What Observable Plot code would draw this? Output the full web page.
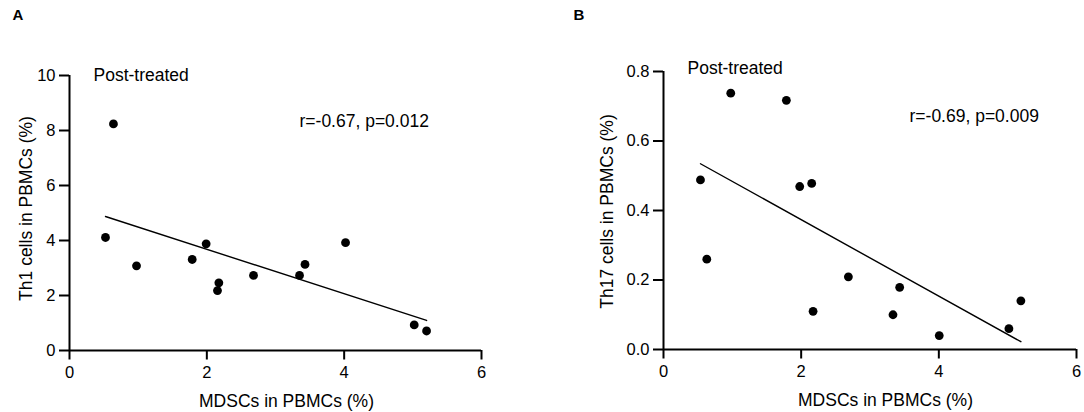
<!DOCTYPE html>
<html><head><meta charset="utf-8">
<script src="https://cdn.jsdelivr.net/npm/d3@7"></script>
<script src="https://cdn.jsdelivr.net/npm/@observablehq/plot@0.6"></script>
<style>
html,body{margin:0;padding:0;background:#fff;}
#wrap{display:flex;width:1084px;height:412px;overflow:hidden;}
#wrap svg{flex:none;}
</style></head><body><div id="wrap"></div>
<script>
// MDSCs in PBMCs (%) per patient
const mdscsA = [0.524, 0.64, 0.976, 1.787, 1.99, 2.155, 2.175, 2.68, 3.35, 3.43, 4.02, 5.02, 5.20];
const mdscsB = [0.537, 0.629, 0.977, 1.785, 1.979, 2.153, 2.173, 2.686, 3.334, 3.431, 4.006, 5.018, 5.192];
// Th1 cells in PBMCs (%)
const th1 = [4.11, 8.24, 3.08, 3.31, 3.88, 2.18, 2.46, 2.73, 2.73, 3.13, 3.92, 0.93, 0.71];
// Th17 cells in PBMCs (%)
const th17 = [0.488, 0.26, 0.7375, 0.717, 0.469, 0.478, 0.110, 0.209, 0.100, 0.179, 0.040, 0.060, 0.140];

const xTicks = [0, 2, 4, 6];
const th1Ticks = [0, 2, 4, 6, 8, 10];
const th17Ticks = [0, 0.2, 0.4, 0.6, 0.8];
const panelLetters = ["A", "B"];
const groupLabel = "Post-treated";
const stats = ["r=-0.67, p=0.012", "r=-0.69, p=0.009"];
const xLabel = "MDSCs in PBMCs (%)";
const yLabels = ["Th1 cells in PBMCs (%)", "Th17 cells in PBMCs (%)"];

const FONT = "'Liberation Sans', Arial, Helvetica, sans-serif";

function panel(o) {
  const data = o.xs.map((x, i) => ({x, y: o.ys[i]}));
  const anchor = {frameAnchor: "top-left", lineAnchor: "bottom", fill: "black"};
  return Plot.plot({
    width: 542, height: 412,
    marginLeft: o.ml, marginRight: o.mr, marginTop: o.mt, marginBottom: o.mb,
    style: {fontFamily: FONT, fontSize: "16.5px", color: "black", background: "white", overflow: "visible"},
    x: {domain: [0, 6], ticks: xTicks, tickFormat: d3.format("d"), label: null},
    y: {domain: o.yDomain, ticks: o.yTicks, tickFormat: o.yFormat, label: null},
    marks: [
      Plot.axisX({ticks: xTicks, tickFormat: d3.format("d"), tickSize: 9.5, tickPadding: 6.5, strokeWidth: 2, fontSize: "16.5px", label: null}),
      Plot.axisY({ticks: o.yTicks, tickFormat: o.yFormat, tickSize: 10, tickPadding: 4, strokeWidth: 2, fontSize: "16.5px", label: null}),
      Plot.ruleX([0], {strokeWidth: 2, stroke: "black"}),
      Plot.ruleY([0], {strokeWidth: 2, stroke: "black"}),
      Plot.linearRegressionY(data, {x: "x", y: "y", ci: 0, stroke: "black", strokeWidth: 1.4}),
      Plot.dot(data, {x: "x", y: "y", r: 4.4, fill: "black", stroke: "none"}),
      Plot.text([o.letter], {...anchor, textAnchor: "start", dx: o.letterPos[0], dy: o.letterPos[1], fontWeight: "bold", fontSize: "15px"}),
      Plot.text([groupLabel], {...anchor, textAnchor: "start", dx: o.groupPos[0], dy: o.groupPos[1], fontSize: "17.5px"}),
      Plot.text([o.stat], {...anchor, textAnchor: "start", dx: o.statPos[0], dy: o.statPos[1], fontSize: "17.5px"}),
      Plot.text([xLabel], {...anchor, textAnchor: "middle", dx: o.xLabPos[0], dy: o.xLabPos[1], fontSize: "17.5px"}),
      Plot.text([o.yLabel], {...anchor, textAnchor: "middle", rotate: -90, dx: o.yLabPos[0], dy: o.yLabPos[1], fontSize: "17.5px"})
    ]
  });
}

const wrap = document.getElementById("wrap");
wrap.appendChild(panel({
  xs: mdscsA, ys: th1, yDomain: [0, 10], yTicks: th1Ticks, yFormat: d3.format("d"),
  ml: 69, mr: 61, mt: 75, mb: 62,
  letter: panelLetters[0], stat: stats[0], yLabel: yLabels[0],
  letterPos: [-57, -56], groupPos: [24, 5], statPos: [230, 51],
  xLabPos: [217, 331], yLabPos: [-38, 133]
}));
wrap.appendChild(panel({
  xs: mdscsB, ys: th17, yDomain: [0, 0.8], yTicks: th17Ticks, yFormat: d3.format(".1f"),
  ml: 121, mr: 8, mt: 71, mb: 63,
  letter: panelLetters[1], stat: stats[1], yLabel: yLabels[1],
  letterPos: [-90, -52], groupPos: [24, 2.5], statPos: [246, 50],
  xLabPos: [222, 334], yLabPos: [-51, 140]
}));
</script></body></html>
